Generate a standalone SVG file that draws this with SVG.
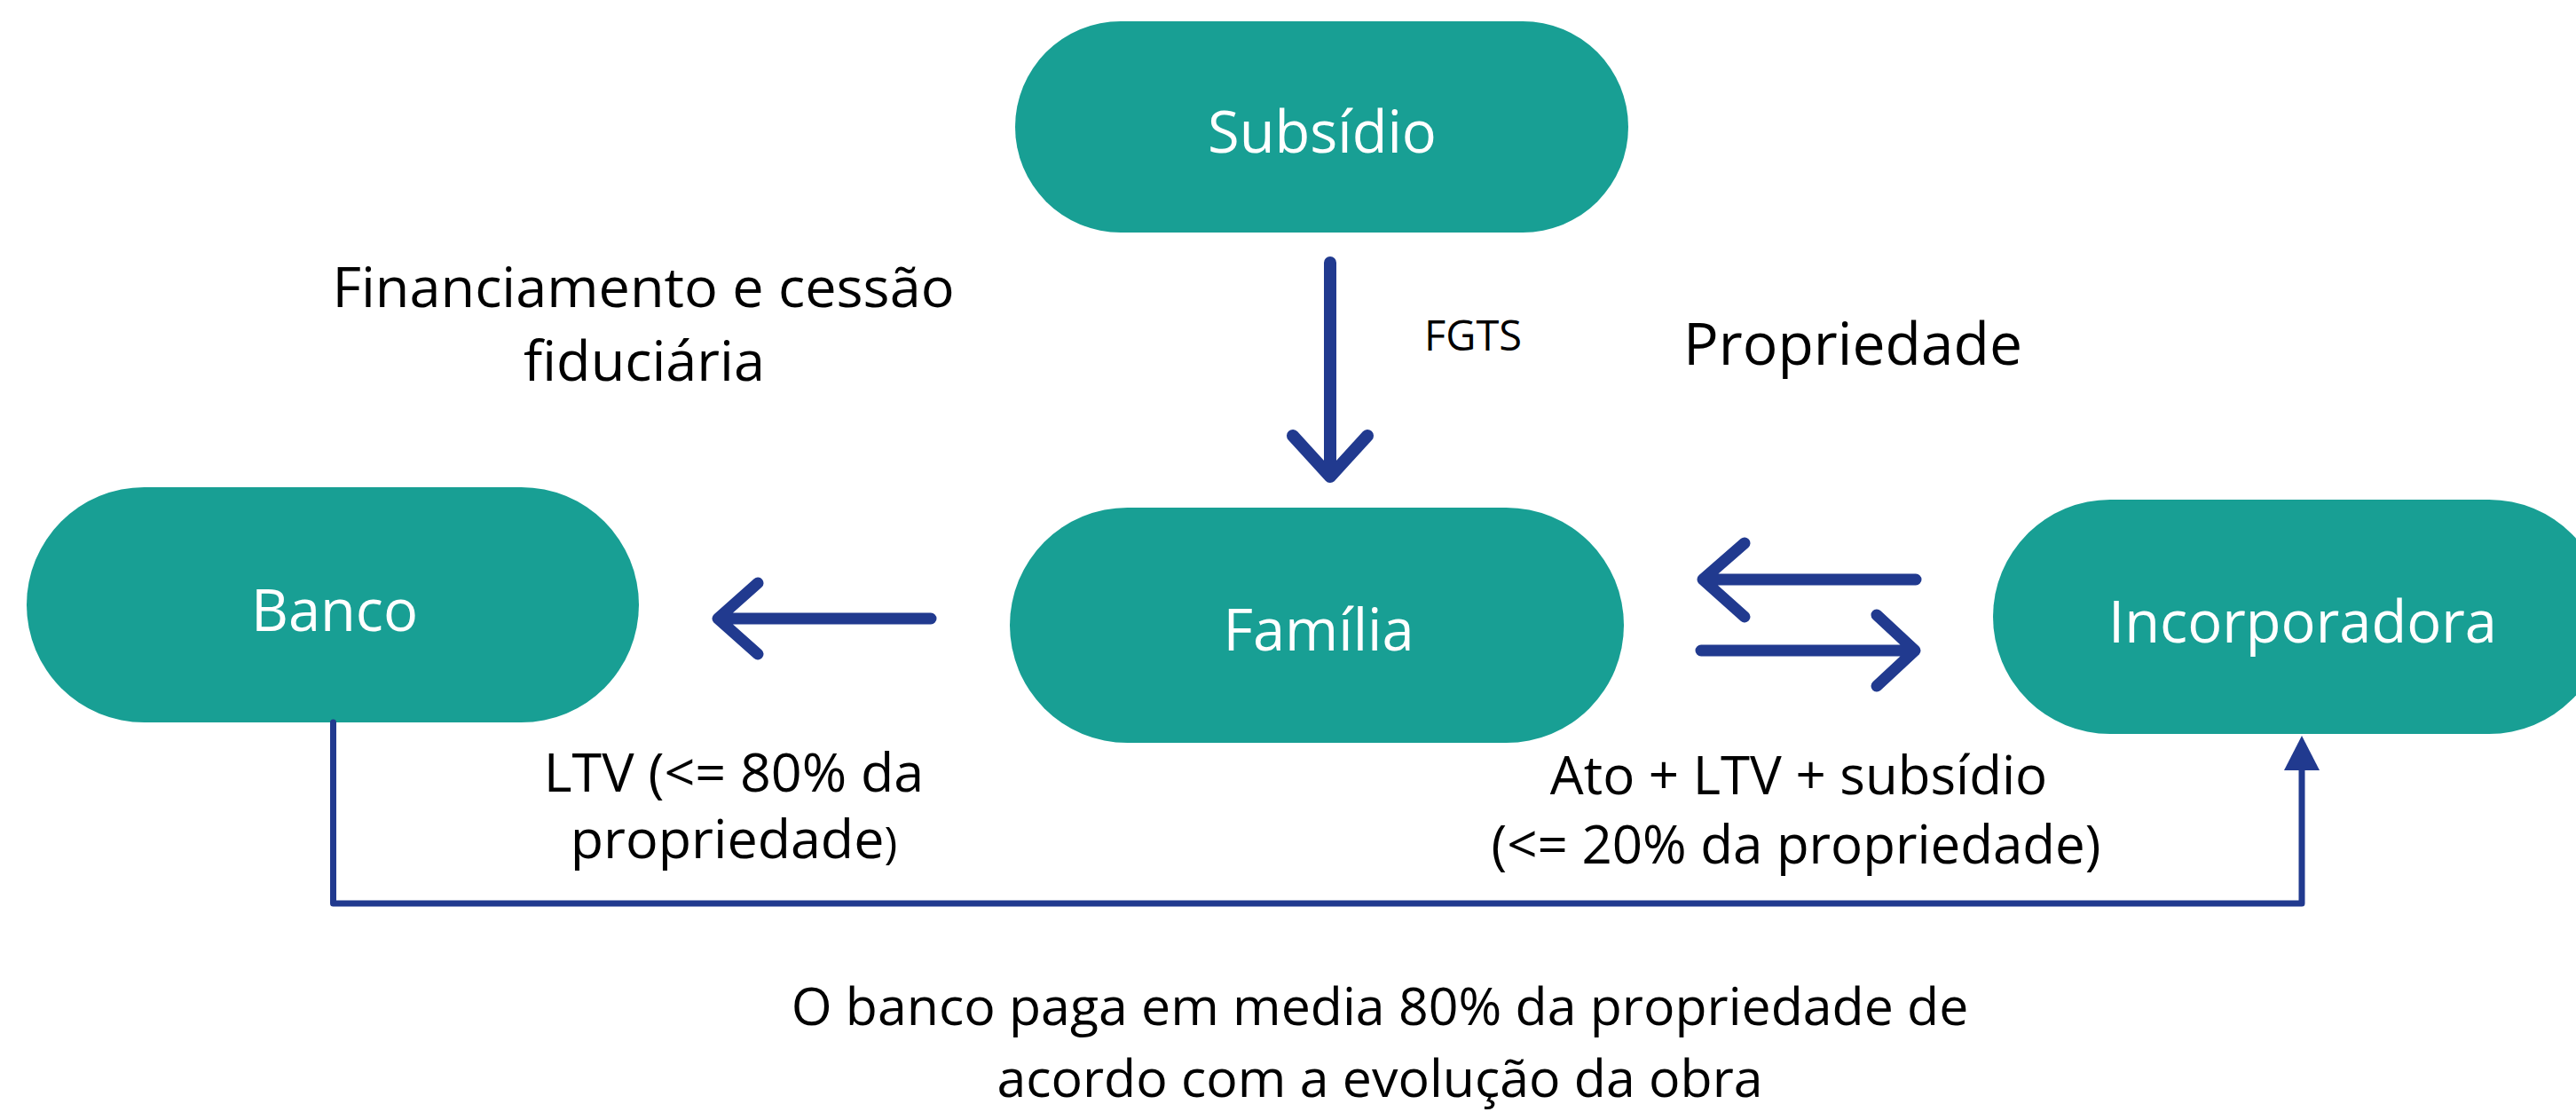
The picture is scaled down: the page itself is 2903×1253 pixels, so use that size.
<svg xmlns="http://www.w3.org/2000/svg" width="2903" height="1253" viewBox="0 0 2903 1253">
<style>
.node{fill:#189F94}
.nt{font-family:"Open Sans","Noto Sans",sans-serif;font-size:65px;fill:#ffffff;text-anchor:middle}
.lbl{font-family:"Open Sans","Noto Sans",sans-serif;fill:#000000;text-anchor:middle}
.arr{fill:none;stroke:#213A8F;stroke-linecap:round;stroke-linejoin:round}
</style>
<rect width="2903" height="1253" fill="#ffffff"/>
<g id="subsidio"><rect class="node" x="1144" y="24" width="691" height="238" rx="119" ry="119"/><text class="nt" x="1490" y="172">Subsídio</text></g>
<g id="banco"><rect class="node" x="30" y="549" width="690" height="265" rx="132.5" ry="132.5"/><text class="nt" x="377" y="711">Banco</text></g>
<g id="familia"><rect class="node" x="1138" y="572" width="692" height="265" rx="132.5" ry="132.5"/><text class="nt" x="1486" y="733">Família</text></g>
<g id="incorporadora"><rect class="node" x="2246" y="563" width="691" height="264" rx="132" ry="132"/><text class="nt" x="2595" y="724">Incorporadora</text></g>
<g id="connectors">
<path class="arr" stroke-width="14" d="M1499 296V536M1457 491L1499 537L1541 491"/>
<path class="arr" stroke-width="13" d="M1049 697H810M854 657L809 697L854 737"/>
<path class="arr" stroke-width="13" d="M2159 653H1920M1966 612L1919 653L1966 695"/>
<path class="arr" stroke-width="13" d="M1917 733H2157M2115 693L2158 733L2115 773"/>
<path class="arr" stroke-width="7" stroke-linecap="butt" d="M375.5 814V1018H2594V866"/>
<polygon points="2594,829 2574,868 2614,868" fill="#213A8F"/>
</g>
<g id="labels">
<text class="lbl" font-size="63" x="725" y="346">Financiamento e cessão</text>
<text class="lbl" font-size="63" x="726" y="429">fiduciária</text>
<text class="lbl" font-size="47" x="1660" y="395">FGTS</text>
<text class="lbl" font-size="66" x="2088" y="411">Propriedade</text>
<text class="lbl" font-size="61" x="827" y="892">LTV (&lt;= 80% da</text>
<text class="lbl" font-size="61" x="827" y="967">propriedade<tspan font-size="50">)</tspan></text>
<text class="lbl" font-size="60" x="2027" y="895">Ato + LTV + subsídio</text>
<text class="lbl" font-size="60" x="2024" y="973">(&lt;= 20% da propriedade)</text>
<text class="lbl" font-size="59" x="1555" y="1155">O banco paga em media 80% da propriedade de</text>
<text class="lbl" font-size="59" x="1555" y="1236">acordo com a evolução da obra</text>
</g>
</svg>
